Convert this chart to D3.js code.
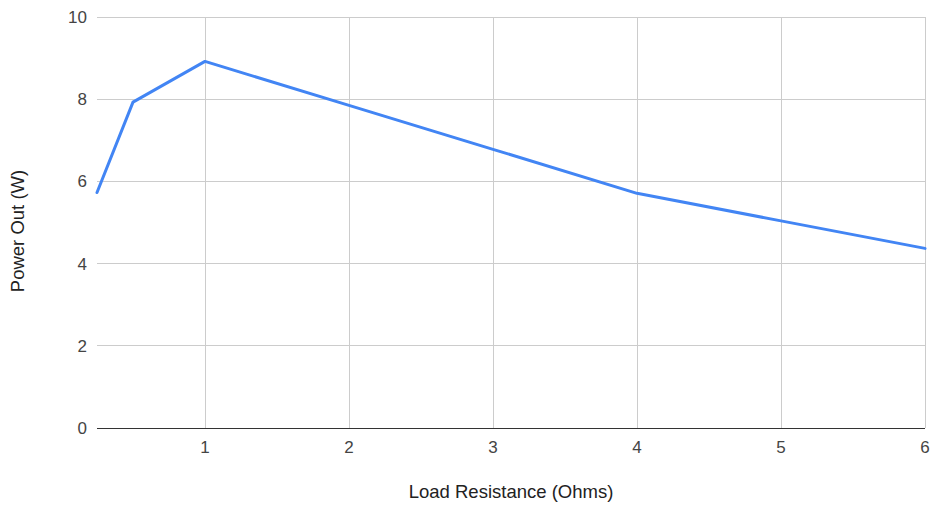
<!DOCTYPE html>
<html>
<head>
<meta charset="utf-8">
<script src="https://cdn.jsdelivr.net/npm/d3@7"></script>
<style>
  html, body { margin: 0; padding: 0; background: #fff; }
  svg { display: block; font-family: Arial, "Liberation Sans", sans-serif; }
</style>
</head>
<body>
<svg id="chart" width="937" height="508"></svg>
<script>
// Load resistance (ohms) and measured power output (watts)
const resistance = [0.25, 0.5, 1, 2, 3, 4, 5, 6];
const powerOut = [5.73, 7.93, 8.92, 7.85, 6.78, 5.71, 5.04, 4.37];
const xTicks = [1, 2, 3, 4, 5, 6];
const yTicks = [0, 2, 4, 6, 8, 10];

const svg = d3.select("#chart");
const plot = { left: 97, right: 925, top: 17, bottom: 428 };

const x = d3.scaleLinear().domain([0.25, 6]).range([plot.left, plot.right]);
const y = d3.scaleLinear().domain([0, 10]).range([plot.bottom, plot.top]);

// Horizontal gridlines
svg.append("g")
  .selectAll("line")
  .data(yTicks.filter(d => d !== 0))
  .join("line")
  .attr("x1", plot.left).attr("x2", plot.right)
  .attr("y1", d => y(d)).attr("y2", d => y(d))
  .attr("stroke", "#cccccc").attr("stroke-width", 1)
  .attr("shape-rendering", "crispEdges");

// Vertical gridlines
svg.append("g")
  .selectAll("line")
  .data(xTicks)
  .join("line")
  .attr("x1", d => x(d)).attr("x2", d => x(d))
  .attr("y1", plot.top).attr("y2", plot.bottom)
  .attr("stroke", "#cccccc").attr("stroke-width", 1)
  .attr("shape-rendering", "crispEdges");

// Baseline at zero
svg.append("line")
  .attr("x1", plot.left).attr("x2", plot.right)
  .attr("y1", y(0)).attr("y2", y(0))
  .attr("stroke", "#333333").attr("stroke-width", 1)
  .attr("shape-rendering", "crispEdges");

// Y tick labels
svg.append("g")
  .selectAll("text")
  .data(yTicks)
  .join("text")
  .attr("x", 87)
  .attr("y", d => y(d))
  .attr("dy", "0.35em")
  .attr("text-anchor", "end")
  .attr("font-size", 17)
  .attr("fill", "#444444")
  .text(d => d);

// X tick labels
svg.append("g")
  .selectAll("text")
  .data(xTicks)
  .join("text")
  .attr("x", d => x(d))
  .attr("y", 453)
  .attr("text-anchor", "middle")
  .attr("font-size", 17)
  .attr("fill", "#444444")
  .text(d => d);

// Axis titles
svg.append("text")
  .attr("x", (plot.left + plot.right) / 2)
  .attr("y", 498)
  .attr("text-anchor", "middle")
  .attr("font-size", 18.5)
  .attr("fill", "#222222")
  .text("Load Resistance (Ohms)");

svg.append("text")
  .attr("transform", "translate(24, 231) rotate(-90)")
  .attr("text-anchor", "middle")
  .attr("font-size", 18.5)
  .attr("fill", "#222222")
  .text("Power Out (W)");

// Power curve
const line = d3.line()
  .x((d, i) => x(resistance[i]))
  .y(d => y(d));

svg.append("path")
  .datum(powerOut)
  .attr("d", line)
  .attr("fill", "none")
  .attr("stroke", "#4285f4")
  .attr("stroke-width", 3)
  .attr("stroke-linejoin", "round")
  .attr("stroke-linecap", "round");
</script>
</body>
</html>
